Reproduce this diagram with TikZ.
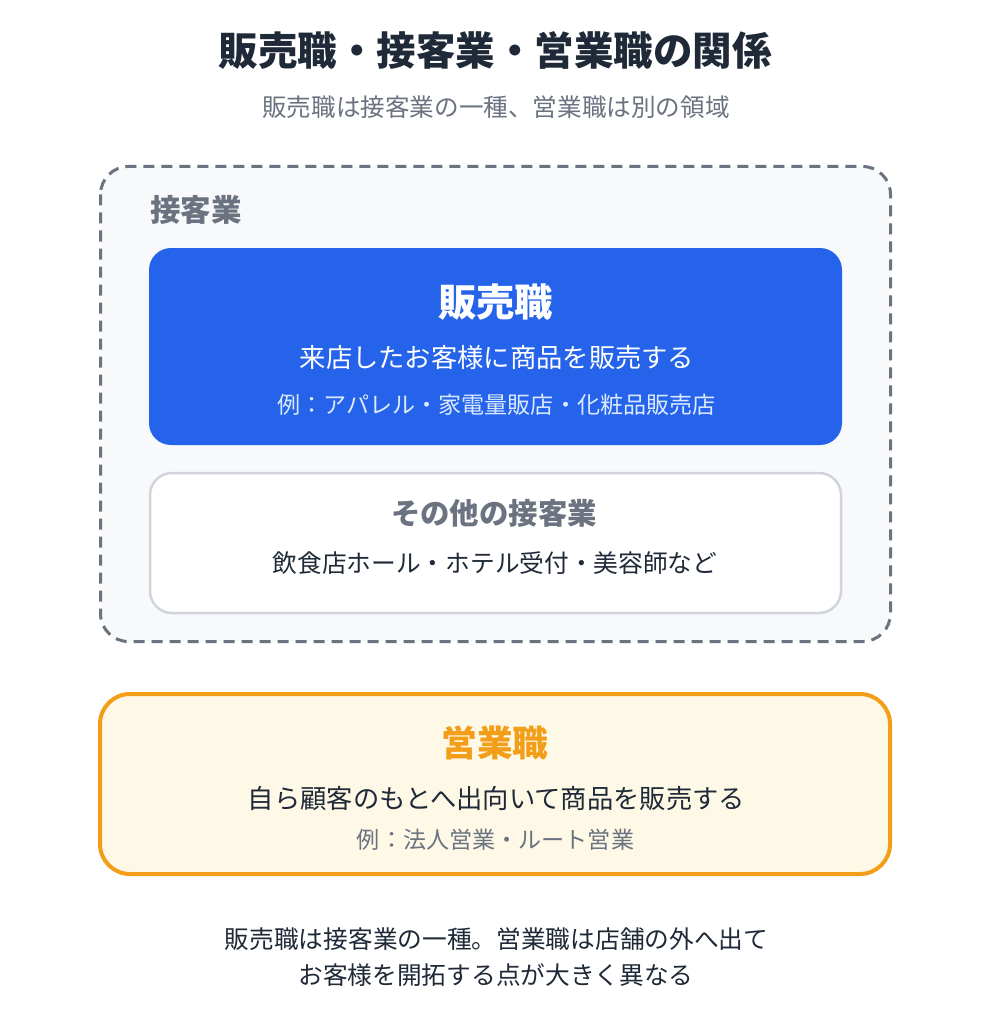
\documentclass[tikz,border=0pt]{standalone}
\usepackage{fontspec}
\setmainfont{Noto Sans CJK JP}
\definecolor{inkdark}{HTML}{1F2937}
\definecolor{inkgray}{HTML}{6B7280}
\definecolor{areabg}{HTML}{F8F9FB}
\definecolor{salesblue}{HTML}{2563EB}
\definecolor{paleblue}{HTML}{DBEAFE}
\definecolor{boxline}{HTML}{D1D5DB}
\definecolor{fieldorange}{HTML}{F29E18}
\definecolor{fieldbg}{HTML}{FEF9E6}
\newcommand{\fs}[1]{\fontsize{#1}{#1}\selectfont}
\tikzset{
  lbl/.style={inner sep=0pt, align=center},
  heading/.style={lbl, font=\fs{#1}\bfseries},
  plain/.style={lbl, font=\fs{#1}},
}
\begin{document}
\begin{tikzpicture}[x=1pt, y=-1pt]
    \fill[white] (0, 0) rectangle (991, 1024);
    \useasboundingbox (0, 0) rectangle (991, 1024);

    % title
    \node[heading=39.5, text=inkdark] (title) at (495, 50) {販売職・接客業・営業職の関係};
    \node[plain=24.6, text=inkgray] (subtitle) at (496, 107) {販売職は接客業の一種、営業職は別の領域};

    % 接客業 area
    \draw[inkgray, fill=areabg, line width=3pt, dash pattern=on 11pt off 7pt, rounded corners=28pt]
      (100.5, 166.5) rectangle (890.5, 641.5);
    \node[heading=30.5, text=inkgray, anchor=west] (service) at (150, 210) {接客業};

    \fill[salesblue, rounded corners=22pt] (149, 248) rectangle (842, 445);
    \node[heading=38.3, text=white] (retail) at (495.5, 302) {販売職};
    \node[plain=26.3, text=white] (retaildesc) at (497, 358) {来店したお客様に商品を販売する};
    \node[plain=23.1, text=paleblue] (retailex) at (496.5, 405) {例：アパレル・家電量販店・化粧品販売店};

    \draw[boxline, fill=white, line width=2.5pt, rounded corners=22pt] (150, 473) rectangle (841, 613);
    \node[heading=29.4, text=inkgray] (other) at (494, 513) {その他の接客業};
    \node[plain=24.7, text=inkdark] (otherex) at (495, 563) {飲食店ホール・ホテル受付・美容師など};

    % 営業職
    \draw[fieldorange, fill=fieldbg, line width=4pt, rounded corners=30pt] (100, 694) rectangle (890, 874);
    \node[heading=35.7, text=fieldorange] (field) at (495, 743) {営業職};
    \node[plain=26.3, text=inkdark] (fielddesc) at (496.5, 799) {自ら顧客のもとへ出向いて商品を販売する};
    \node[plain=23.1, text=inkgray] (fieldex) at (495.5, 840) {例：法人営業・ルート営業};

    % summary
    \node[plain=24.7, text=inkdark] (note1) at (496.5, 939) {販売職は接客業の一種。営業職は店舗の外へ出て};
    \node[plain=24.7, text=inkdark] (note2) at (496, 975) {お客様を開拓する点が大きく異なる};
\end{tikzpicture}
\end{document}
